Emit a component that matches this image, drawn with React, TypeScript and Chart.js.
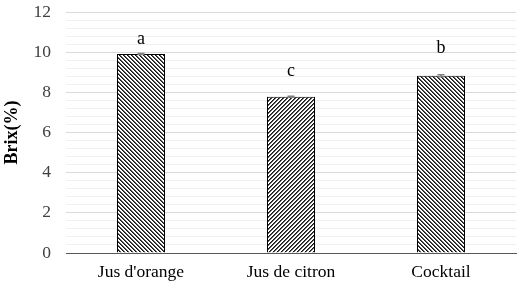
import React, { useEffect, useRef } from "react";
import { Chart, registerables } from "chart.js";

Chart.register(...registerables);

const categories = ["Jus d'orange", "Jus de citron", "Cocktail"];
const brixValues = [9.91, 7.78, 8.83];
const brixErrors = [0.02, 0.03, 0.05];
const significanceLetters = ["a", "c", "b"];
const letterLevels = [10.66, 9.03, 10.19];
const yTickLabels = [0, 2, 4, 6, 8, 10, 12];

const FONT = "'Liberation Serif', 'Times New Roman', serif";

function makePattern(kind: "back" | "fwd"): CanvasPattern | string {
  const c = document.createElement("canvas");
  c.width = 4;
  c.height = 4;
  const g = c.getContext("2d");
  if (!g) return "#888";
  const img = g.createImageData(4, 4);
  for (let y = 0; y < 4; y++) {
    for (let x = 0; x < 4; x++) {
      const m = kind === "back" ? (((x - y) % 4) + 4) % 4 : (x + y) % 4;
      const v = m === 0 ? 20 : m === 1 ? 90 : 255;
      const i = (y * 4 + x) * 4;
      img.data[i] = v;
      img.data[i + 1] = v;
      img.data[i + 2] = v;
      img.data[i + 3] = 255;
    }
  }
  g.putImageData(img, 0, 0);
  return g.createPattern(c, "repeat") || "#888";
}

const isMajor = (v: number) => Math.abs(v / 2 - Math.round(v / 2)) < 1e-6;

export default function App() {
  const ref = useRef<HTMLCanvasElement | null>(null);
  useEffect(() => {
    document.body.style.margin = "0";
    const canvas = ref.current;
    if (!canvas) return;
    const patterns = [makePattern("back"), makePattern("fwd"), makePattern("back")];

    const annot = {
      id: "errAndLetters",
      afterDatasetsDraw(chart: any) {
        const ctx = chart.ctx;
        const meta = chart.getDatasetMeta(0);
        const y = chart.scales.y;
        ctx.save();
        meta.data.forEach((bar: any, i: number) => {
          const v = brixValues[i];
          const e = brixErrors[i];
          const yTop = y.getPixelForValue(v + e);
          const yBot = y.getPixelForValue(v - e);
          ctx.strokeStyle = "#7f7f7f";
          ctx.lineWidth = 1.5;
          ctx.beginPath();
          ctx.moveTo(bar.x, yTop);
          ctx.lineTo(bar.x, yBot);
          ctx.moveTo(bar.x - 3.5, yTop);
          ctx.lineTo(bar.x + 3.5, yTop);
          ctx.moveTo(bar.x - 3.5, yBot);
          ctx.lineTo(bar.x + 3.5, yBot);
          ctx.stroke();
          ctx.fillStyle = "#000";
          ctx.font = `18px ${FONT}`;
          ctx.textAlign = "center";
          ctx.textBaseline = "middle";
          ctx.fillText(significanceLetters[i], bar.x, y.getPixelForValue(letterLevels[i]));
        });
        ctx.restore();
      },
    };

    const chart = new Chart(canvas, {
      type: "bar",
      data: {
        labels: categories,
        datasets: [
          {
            data: brixValues,
            backgroundColor: patterns as any,
            borderColor: "#000",
            borderWidth: 1,
            barPercentage: 0.32,
            categoryPercentage: 1,
          },
        ],
      },
      options: {
        animation: false,
        responsive: false,
        maintainAspectRatio: false,
        layout: { padding: { top: 12, right: 10, left: 0, bottom: 0 } },
        plugins: { legend: { display: false }, tooltip: { enabled: false } },
        scales: {
          x: {
            grid: { display: false, drawTicks: false },
            border: { color: "#595959", width: 1 },
            ticks: { color: "#000", font: { family: FONT, size: 17.5 }, padding: 9 },
            afterFit: (s: any) => {
              s.height = 29;
            },
          },
          y: {
            min: 0,
            max: 12,
            afterBuildTicks: (s: any) => {
              const t: any[] = [];
              for (let k = 0; k <= 30; k++) t.push({ value: Math.round(k * 0.4 * 10) / 10 });
              s.ticks = t;
            },
            grid: {
              drawTicks: true,
              tickLength: 15,
              tickColor: "rgba(0,0,0,0)",
              color: (c: any) => (isMajor(c.tick.value) ? "#d9d9d9" : "#f0f0f0"),
              lineWidth: 1,
            },
            border: { display: false },
            ticks: {
              autoSkip: false,
              color: "#404040",
              font: { family: FONT, size: 17.5 },
              padding: 0,
              callback: (v: any) => (isMajor(Number(v)) && yTickLabels.includes(Math.round(Number(v))) ? String(Math.round(Number(v))) : ""),
            },
            title: {
              display: true,
              text: "Brix(%)",
              color: "#000",
              font: { family: FONT, size: 18, weight: "bold" },
              padding: { top: 2, bottom: 2 },
            },
            afterFit: (s: any) => {
              s.width = 66;
            },
          },
        },
      },
      plugins: [annot],
    });
    return () => chart.destroy();
  }, []);
  return (
    <div style={{ width: 526, height: 282, background: "#fff" }}>
      <canvas ref={ref} width={526} height={282} />
    </div>
  );
}
